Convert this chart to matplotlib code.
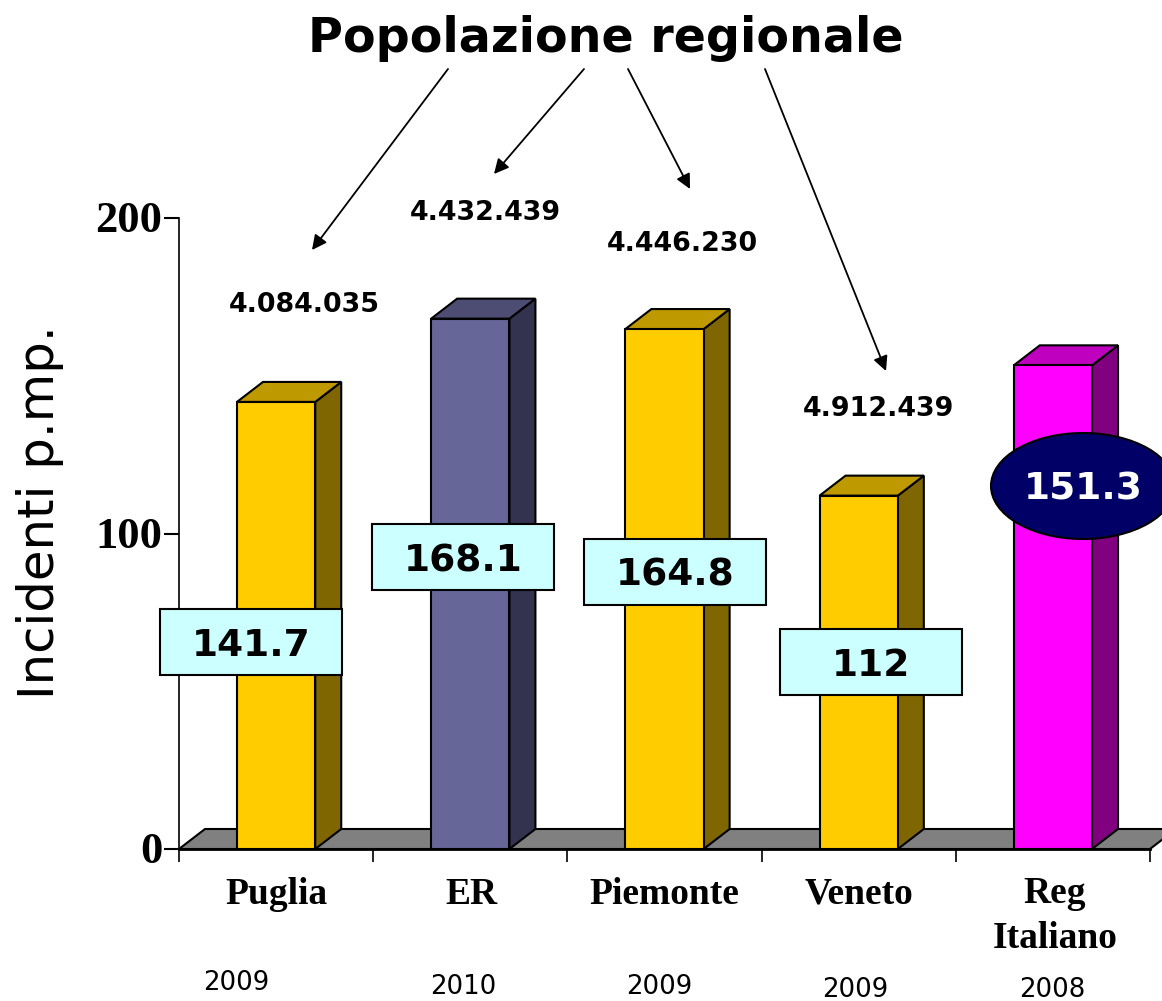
#!/usr/bin/env python3
import matplotlib
matplotlib.use('Agg')
import matplotlib.pyplot as plt
from matplotlib.patches import Rectangle, Ellipse
from matplotlib.transforms import ScaledTranslation

W, H = 1162, 1001

regions = ['Puglia', 'ER', 'Piemonte', 'Veneto', 'Reg\nItaliano']
years = ['2009', '2010', '2009', '2009', '2008']
bar_heights = [141.7, 168.1, 164.8, 112, 153.3]
value_labels = ['141.7', '168.1', '164.8', '112', '151.3']
population = ['4.084.035', '4.432.439', '4.446.230', '4.912.439']
y_ticks = [0, 100, 200]

front = ['#FFCC00', '#666699', '#FFCC00', '#FFCC00', '#FF00FF']
top = ['#BF9900', '#4D4D73', '#BF9900', '#BF9900', '#BF00BF']
side = ['#806600', '#333350', '#806600', '#806600', '#800080']

# pixel layout of the plot area
left, right, y0, y200 = 179, 1150, 849, 218
dx_px, dy_px = 26, 20

fig = plt.figure(figsize=(W / 100, H / 100), dpi=100)
ax = fig.add_axes([left / W, 1 - y0 / H, (right - left) / W, (y0 - y200) / H])
ax.set_xlim(-0.5, 4.5)
ax.set_ylim(0, 200)
dx = dx_px / ((right - left) / 5)
dy = dy_px / ((y0 - y200) / 200)
bw = 0.403

# floor
ax.fill([-0.5, 4.5, 4.5 + dx, -0.5 + dx], [0, 0, dy, dy], color='#808080',
        ec='black', lw=1.5, clip_on=False, zorder=1)

for i, h in enumerate(bar_heights):
    xl, xr = i - bw / 2, i + bw / 2
    ax.fill([xr, xr + dx, xr + dx, xr], [0, dy, h + dy, h], fc=side[i], ec='black', lw=1.5,
            clip_on=False, zorder=3)
    ax.fill([xl, xr, xr + dx, xl + dx], [h, h, h + dy, h + dy], fc=top[i], ec='black', lw=1.5,
            clip_on=False, zorder=3)
    ax.bar(i, h, width=bw, color=front[i], edgecolor='black', linewidth=1.5, zorder=4)

for s in ['top', 'right']:
    ax.spines[s].set_visible(False)
ax.spines['left'].set_linewidth(1.2)
ax.spines['bottom'].set_linewidth(2)
ax.spines['bottom'].set_zorder(5)
ax.set_yticks(y_ticks)
ax.set_yticklabels(y_ticks, family='Liberation Serif', fontweight='bold', fontsize=32, va='center')
ax.tick_params(axis='y', length=11, width=1.5, pad=1)
# nudge the numbers down a bit so they sit on the ticks
nudge = ScaledTranslation(0, -3 / 100, fig.dpi_scale_trans)
for t in ax.get_yticklabels():
    t.set_transform(t.get_transform() + nudge)
ax.set_xticks([i - 0.5 for i in range(6)])
ax.set_xticklabels([])
ax.tick_params(axis='x', length=9, width=1.2)

# overlay in picture pixels for the callouts and free text
ov = fig.add_axes([0, 0, 1, 1], facecolor='none')
ov.set_xlim(0, W)
ov.set_ylim(H, 0)
ov.axis('off')

ov.text(606, 39, 'Popolazione regionale', fontsize=34.3, fontweight='bold', ha='center', va='center')
ov.text(40, 512, 'Incidenti p.mp.', fontsize=35.8, rotation=90, ha='center', va='center')

pop_xy = [(304, 305), (485, 213), (682, 244), (878, 409)]
for label, (x, y) in zip(population, pop_xy):
    ov.text(x, y, label, fontsize=19.4, fontweight='bold', ha='center', va='center')

arrows = [((448, 69), (312, 250)), ((584, 69), (494, 174)),
          ((628, 69), (690, 189)), ((765, 69), (886, 371))]
for a, b in arrows:
    ov.annotate('', xy=b, xytext=a,
                arrowprops=dict(arrowstyle='-|>', color='black', lw=1.3, mutation_scale=22,
                                shrinkA=0, shrinkB=0))

box_xy = [(160, 609), (372, 524), (584, 539), (780, 629)]
for label, (x, y) in zip(value_labels[:4], box_xy):
    ov.add_patch(Rectangle((x, y), 182, 66, fc='#CCFFFF', ec='black', lw=1.5, zorder=6))
    ov.text(x + 91, y + 37, label, fontsize=27, fontweight='bold', ha='center', va='center', zorder=7)

ov.add_patch(Ellipse((1083, 486), 184, 106, fc='#000066', ec='black', lw=1.5, zorder=6))
ov.text(1083, 490, value_labels[4], fontsize=27, fontweight='bold', color='white',
        ha='center', va='center', zorder=7)

name_xy = [(276, 894), (471, 894), (664, 894), (859, 894), (1055, 916)]
for label, (x, y) in zip(regions, name_xy):
    ov.text(x, y, label, family='Liberation Serif', fontweight='bold', fontsize=27,
            ha='center', va='center', linespacing=1.35)

year_xy = [(236, 983), (463, 987), (659, 987), (855, 990), (1052, 990)]
for label, (x, y) in zip(years, year_xy):
    ov.text(x, y, label, fontsize=18.7, ha='center', va='center')

fig.savefig('out.png', dpi=100)
